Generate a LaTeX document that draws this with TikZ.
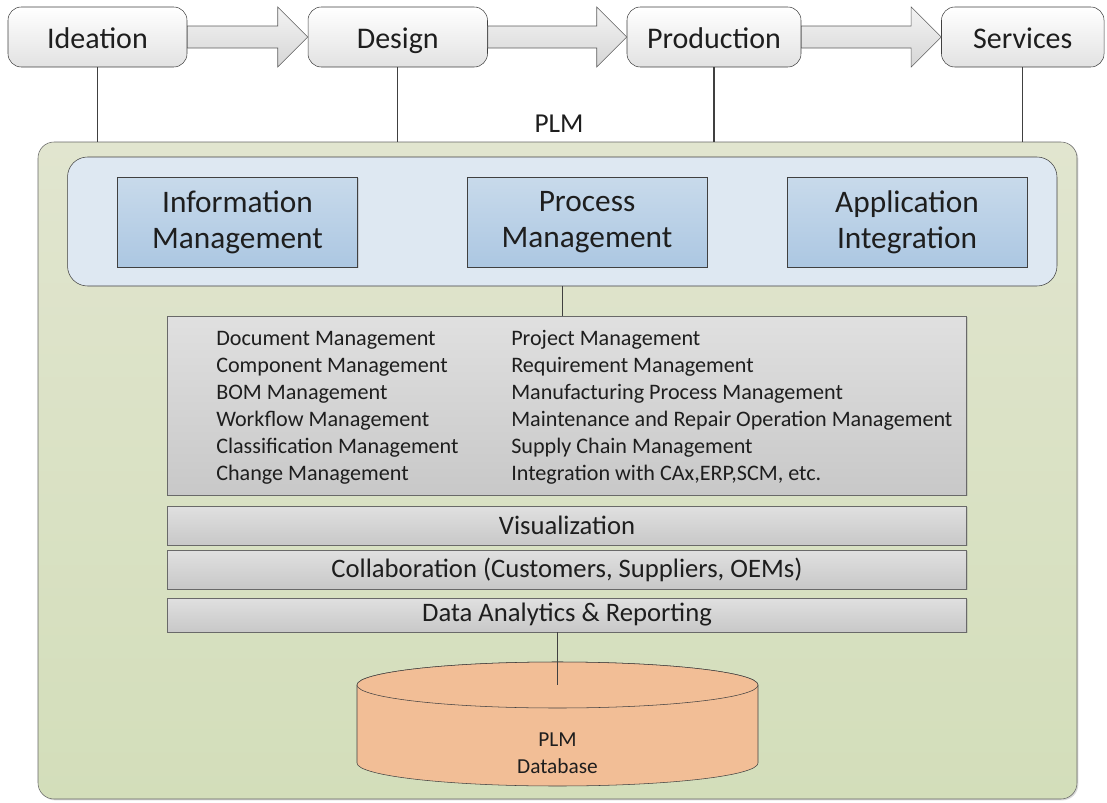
\documentclass[tikz,border=0pt]{standalone}
\usepackage{fontspec}
\setmainfont{Carlito}
\usetikzlibrary{calc,shadows}

\definecolor{edgegray}{RGB}{64,64,64}
\definecolor{textdark}{RGB}{30,30,30}
\definecolor{stagebot}{RGB}{226,226,226}
\definecolor{arrowtop}{RGB}{244,244,244}
\definecolor{arrowbot}{RGB}{214,214,214}
\definecolor{greentop}{RGB}{225,229,207}
\definecolor{greenbot}{RGB}{211,222,186}
\definecolor{corefill}{RGB}{222,232,242}
\definecolor{moduletop}{RGB}{200,218,235}
\definecolor{modulebot}{RGB}{172,199,226}
\definecolor{layertop}{RGB}{224,224,224}
\definecolor{layerbot}{RGB}{200,200,200}
\definecolor{layeredge}{RGB}{105,105,105}
\definecolor{dbfill}{RGB}{242,190,150}

\tikzset{
  stage/.style={draw=edgegray, rounded corners=10pt, top color=white,
    bottom color=stagebot, minimum height=45pt, text=textdark,
    text height=18pt, text depth=1pt, font=\fontsize{22.5}{26}\selectfont},
  flowarrow/.style={draw=edgegray!85, top color=arrowtop, bottom color=arrowbot},
  link/.style={draw=edgegray, line width=1.1pt},
  plmframe/.style={draw=edgegray!80, rounded corners=12pt, top color=greentop,
    bottom color=greenbot, drop shadow={shadow xshift=1pt, shadow yshift=-1pt, opacity=0.3}},
  corebox/.style={draw=edgegray, rounded corners=15pt, fill=corefill},
  module/.style={draw=edgegray, top color=moduletop, bottom color=modulebot,
    minimum width=180pt, minimum height=67.5pt, align=center, text=textdark,
    font=\fontsize{23.5}{27}\selectfont,
    drop shadow={shadow xshift=1pt, shadow yshift=-1pt, opacity=0.25}},
  layer/.style={draw=layeredge, top color=layertop, bottom color=layerbot,
    minimum width=599.25pt, text=textdark, font=\fontsize{20}{23}\selectfont,
    drop shadow={shadow xshift=1pt, shadow yshift=-1pt, opacity=0.25}},
  listtext/.style={inner sep=0pt, align=left, text=textdark,
    font=\fontsize{16.6}{20.25}\selectfont},
  dbbody/.style={draw=edgegray, fill=dbfill}
}

% block arrow between two stage boxes
\newcommand{\stagearrow}[2]{%
  \draw[flowarrow] ($(#1.east)+(0,-11)$) -- ($(#2.west)+(-30,-11)$)
    -- ($(#2.west)+(-30,-30)$) -- (#2.west) -- ($(#2.west)+(-30,30)$)
    -- ($(#2.west)+(-30,11)$) -- ($(#1.east)+(0,11)$) -- cycle;}

\begin{document}
\begin{tikzpicture}[x=0.75pt,y=-0.75pt]
  \useasboundingbox (0,0) rectangle (1107,803);
  % life cycle stages
  \node[stage, minimum width=134.25pt] (ideation) at (97.5,37) {Ideation};
  \node[stage, minimum width=134.6pt] (design) at (397.75,37) {Design};
  \node[stage, minimum width=130.5pt] (production) at (714,37) {Production};
  \node[stage, minimum width=121.9pt] (services) at (1022.75,37) {Services};
  \stagearrow{ideation}{design}
  \stagearrow{design}{production}
  \stagearrow{production}{services}

  \node[plmframe, minimum width=779.25pt, minimum height=492.75pt] (plm) at (557.5,470.5) {};
  \node[text=textdark, font=\fontsize{20.5}{24}\selectfont] (plmlabel) at (559,124) {PLM};
  \draw[link] (ideation.south) -- (ideation.south |- plm.north);
  \draw[link] (design.south) -- (design.south |- plm.north);
  \draw[link] (production.south) -- (production.south |- plm.north);
  \draw[link] (services.south) -- (services.south |- plm.north);

  % core modules
  \node[corebox, minimum width=742.1pt, minimum height=96.75pt] (core) at (562.25,221.5) {};
  \node[module] (infomgmt) at (237.5,222) {Information\\Management};
  \node[module] (procmgmt) at (587,222) {Process\\Management};
  \node[module] (appint) at (907,222) {Application\\Integration};

  % functions and layers
  \node[layer, minimum height=134.25pt] (funcs) at (567,405.5) {};
  \node[listtext, anchor=west] (leftlist) at (216,407.5) {Document Management\\
    Component Management\\BOM Management\\Workflow Management\\
    Classification Management\\Change Management};
  \node[listtext, anchor=west] (rightlist) at (511,407.5) {Project Management\\
    Requirement Management\\Manufacturing Process Management\\
    Maintenance and Repair Operation Management\\Supply Chain Management\\
    Integration with CAx,ERP,SCM, etc.};
  \node[layer, minimum height=29.25pt] (visual) at (567,525.5) {Visualization};
  \node[layer, minimum height=29.25pt] (collab) at (567,569.5) {Collaboration (Customers, Suppliers, OEMs)};
  \node[layer, minimum height=25.5pt] (analytics) at (567,615) {Data Analytics \& Reporting};
  \draw[link] (core.south) -- (core.south |- funcs.north);

  % database
  \draw[dbbody] (357,685) -- (357,763) arc (180:0:200.5 and 23) -- (758,685)
    arc (0:-180:200.5 and 23) -- cycle;
  \draw[dbbody] (557.5,685) ellipse (200.5 and 23);
  \coordinate (dbtop) at (557.5,685);
  \node[text=textdark, align=center, font=\fontsize{16}{20.25}\selectfont] (dblabel) at (557.5,753.5) {PLM\\Database};
  \draw[link] (dbtop |- analytics.south) -- (dbtop);
\end{tikzpicture}
\end{document}
